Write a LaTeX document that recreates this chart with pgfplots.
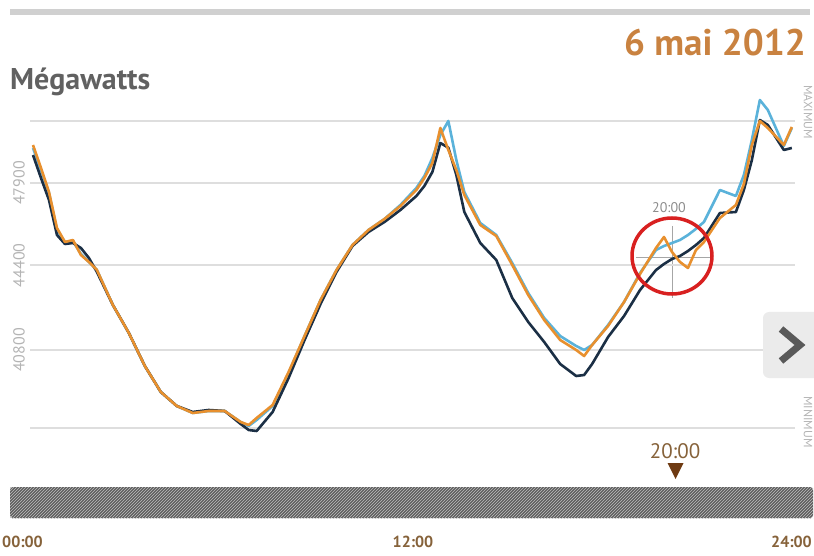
\documentclass[border=0pt]{standalone}
\usepackage{fontspec}
\setmainfont{PT Sans}
\usepackage{pgfplots}
\usepackage{pgfplotstable}
\pgfplotsset{compat=1.18}
\usetikzlibrary{patterns}

\definecolor{cOr}{HTML}{E8902E}
\definecolor{cNv}{HTML}{1B2F45}
\definecolor{cBl}{HTML}{5AB2DA}
\definecolor{cTitle}{HTML}{C98240}
\definecolor{cBrown}{HTML}{86623A}
\definecolor{cTri}{HTML}{6E3A12}
\definecolor{cGrid}{HTML}{DEDEDE}
\definecolor{cTick}{HTML}{B4B4B4}
\definecolor{cBar}{HTML}{5E5E5E}
\definecolor{cRed}{HTML}{D82020}

\pgfplotstableread{
h     or     nv     bl
0.00  49515  49090  49388
0.25  48538  48113  48453
0.50  47518  47178  47475
0.75  45988  45690  45903
1.00  45393  45308  45393
1.25  45478  45350  45435
1.50  44840  45138  44883
1.75  44543  44713  44543
2.00  44203  44118  44203
2.50  42715  42715  42715
3.00  41525  41525  41525
3.50  40123  40123  40123
4.00  39018  39018  39018
4.50  38423  38423  38423
5.00  38125  38168  38125
5.50  38210  38253  38210
6.00  38210  38210  38210
6.50  37743  37658  37743
6.75  37615  37403  37573
7.00  37913  37360  37828
7.50  38465  38168  38423
8.00  39868  39613  39825
8.50  41398  41228  41398
9.00  42928  42758  42928
9.50  44203  44118  44203
10.00 45265  45223  45265
10.50 45903  45818  45903
11.00 46370  46243  46370
11.50 46923  46753  46965
12.00 47603  47348  47688
12.25 48113  47773  48198
12.50 48750  48368  48963
12.75 50238  49600  49938
13.00 49303  49400  50535
13.25 48453  48240  48878
13.50 47390  46668  47518
14.00 46115  45350  46200
14.50 45648  44628  45690
15.00 44415  43013  44500
15.50 43140  41993  43225
16.00 42078  41143  42163
16.50 41228  40208  41398
17.00 40803  39698  40973
17.25 40548  39740  40803
17.50 41015  40208  41015
18.00 41823  41355  41865
18.50 42843  42248  42843
19.00 44033  43353  44075
19.50 45138  44203  45053
19.75 45605  44458  45223
20.00 44968  44670  45350
20.25 44543  44798  45478
20.50 44288  45010  45690
20.75 45053  45265  45950
21.00 45393  45563  46243
21.50 46413  46625  47603
22.00 46965  46668  47348
22.25 47858  47603  48240
22.50 49515  48878  49728
22.75 50535  50578  51428
23.00 50238  50365  51003
23.50 49515  49303  49473
23.75 50280  49388  50238
}\conso

\begin{document}
\begin{tikzpicture}[x=1pt,y=1pt]
\path[use as bounding box] (0,0) rectangle (814,555);

% top bar
\fill[cGrid!85!gray] (10,540) rectangle (810,546);

% titles
\node[anchor=base east, text=cTitle, inner sep=0pt, font=\fontsize{37}{42}\selectfont\bfseries] at (806,499) {6 mai 2012};
\node[anchor=base west, text=black!62, inner sep=0pt, font=\fontsize{30}{35}\selectfont\bfseries] at (10,465) {Mégawatts};

% crosshair
\draw[black!35, line width=0.8] (672,555-226) -- (672,555-298);
\draw[black!35, line width=0.8] (636,555-257) -- (710,555-257);
\node[text=black!45, font=\fontsize{14}{16}\selectfont] at (669,555-208) {20:00};

\begin{axis}[
  at={(30pt,127pt)}, anchor=south west,
  scale only axis, width=765pt, height=307pt,
  xmin=-0.094, xmax=23.85,
  ymin=37487.5, ymax=50535,
  scaled y ticks=false,
  clip=false,
  axis line style={draw=none},
  xtick=\empty,
  ytick={40800,44400,47900},
  yticklabels={40800,44400,47900},
  extra y ticks={37487.5,50535},
  extra y tick labels={},
  extra y tick style={grid=major},
  ymajorgrids,
  grid style={cGrid, line width=1.8pt},
  major tick length=0pt,
  yticklabel style={rotate=90, anchor=south, inner sep=0pt, text=cTick,
    font=\fontsize{16}{16}\selectfont},
  yticklabel shift=5pt,
]
\addplot[cBl, line width=2.6pt, line join=round] table[x=h, y=bl] {\conso};
\addplot[cNv, line width=2.6pt, line join=round] table[x=h, y=nv] {\conso};
\addplot[cOr, line width=2.6pt, line join=round] table[x=h, y=or] {\conso};
\end{axis}

% red circle
\draw[cRed, line width=3.5pt] (672,555-256) ellipse (40 and 38);

% right labels
\node[rotate=-90, text=black!30, font=\fontsize{12}{14}\selectfont] at (808,555-112) {MAXIMUM};
\node[rotate=-90, text=black!30, font=\fontsize{12}{14}\selectfont] at (808,555-422) {MINIMUM};

% button
\fill[black!8, rounded corners=6pt] (763,555-378) rectangle (830,555-312);
\draw[black!65, line width=7pt, line join=miter] (781,555-329) -- (800,555-345) -- (781,555-361);

% current time marker
\node[text=cBrown, font=\fontsize{21}{24}\selectfont] at (675,555-451) {20:00};
\fill[cTri] (667.5,555-463) -- (683.5,555-463) -- (675.5,555-479) -- cycle;

% hatched bar
\fill[cBar, rounded corners=3pt] (10,555-518) rectangle (813,555-487);
\fill[pattern=north east lines, pattern color=black!25] (10,555-518) rectangle (813,555-487);

% bottom labels
\node[anchor=base west, inner sep=0pt, text=cBrown, font=\fontsize{16}{18}\selectfont\bfseries] at (2,8) {00:00};
\node[anchor=base, inner sep=0pt, text=cBrown, font=\fontsize{16}{18}\selectfont\bfseries] at (413,8) {12:00};
\node[anchor=base east, inner sep=0pt, text=cBrown, font=\fontsize{16}{18}\selectfont\bfseries] at (812,8) {24:00};
\end{tikzpicture}
\end{document}
